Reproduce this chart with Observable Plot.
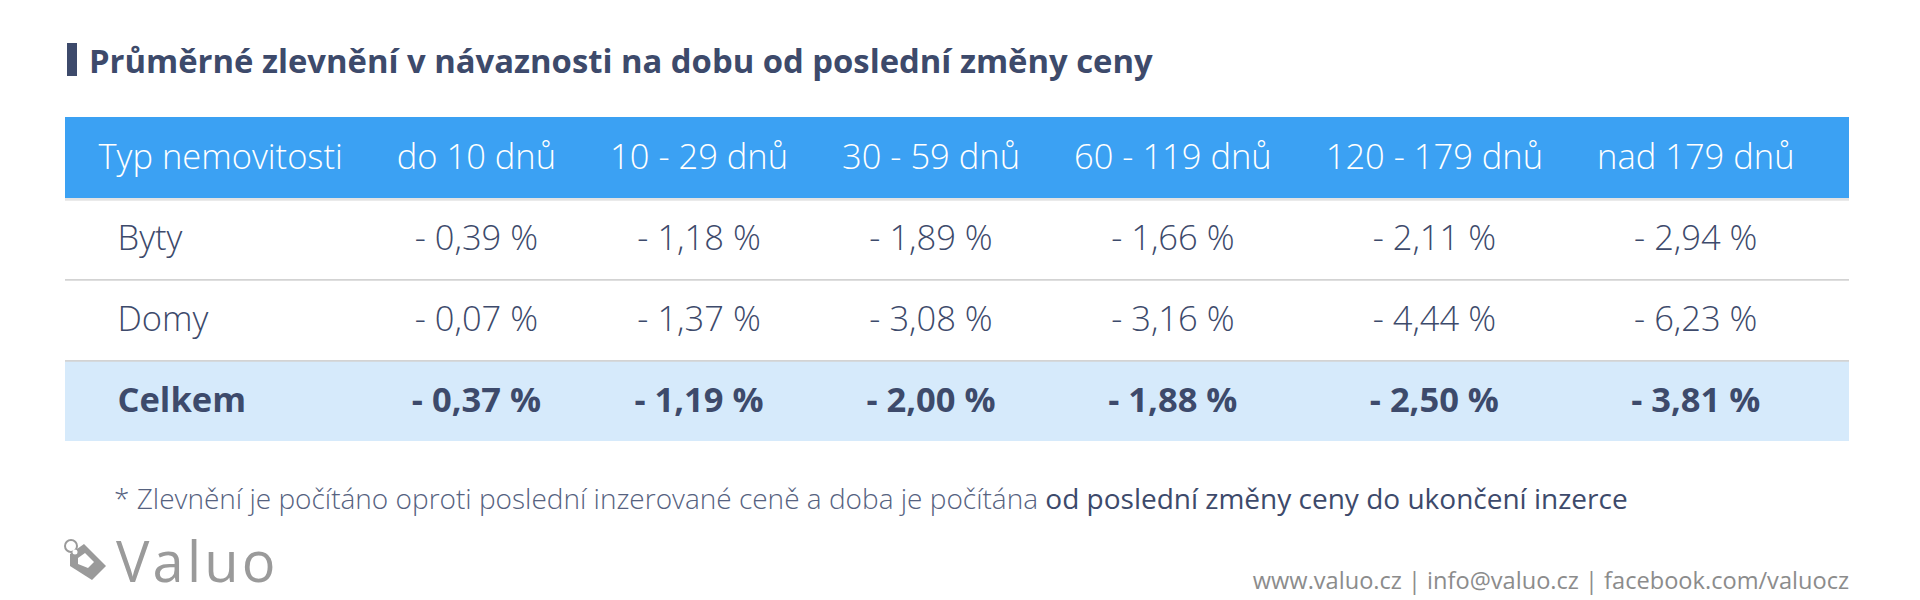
<!DOCTYPE html>
<html>
<head>
<meta charset="utf-8">
<script src="https://cdn.jsdelivr.net/npm/d3@7"></script>
<script src="https://cdn.jsdelivr.net/npm/@observablehq/plot@0.6"></script>
<style>
  html, body { margin: 0; padding: 0; background: #fff; }
  #page { position: relative; width: 1920px; height: 600px; overflow: hidden; font-family: "Open Sans", sans-serif; color: #3d4a6b; }
  #bar { position: absolute; left: 67px; top: 43px; width: 10px; height: 33px; background: #3d4a6b; }
  #title { position: absolute; left: 89px; top: 39px; font-size: 32.8px; font-weight: 700; line-height: 44px; white-space: nowrap; color: #3d4a6b; }
  #chart { position: absolute; left: 0; top: 116px; }
  #note { position: absolute; left: 114px; top: 480px; font-size: 28px; font-weight: 300; line-height: 36px; white-space: nowrap; color: #56627f; }
  #note .em { color: #3d4a6b; font-weight: 400; }
  #logo { position: absolute; left: 60px; top: 522px; height: 76px; display: flex; align-items: center; }
  #logo span { font-size: 56px; line-height: 76px; color: #9a9a9a; letter-spacing: 3.2px; margin-left: 4px; }
  #contacts { position: absolute; right: 71px; top: 565px; font-size: 23.6px; line-height: 30px; color: #8c8c8c; white-space: nowrap; }
</style>
</head>
<body>
<div id="page">
  <div id="bar"></div>
  <div id="title"></div>
  <div id="chart"></div>
  <div id="note"></div>
  <div id="logo">
    <svg width="52" height="48" viewBox="0 0 52 48">
      <circle cx="11" cy="10" r="6" fill="none" stroke="#9a9a9a" stroke-width="2"/>
      <polygon points="10,18 24,8 46,30 32,44 10,30" fill="#9a9a9a"/>
      <polygon points="18,22 25,17 34,26 28,32 18,28" fill="#fff"/>
      <circle cx="15" cy="16" r="2.5" fill="#fff"/>
    </svg>
    <span>Valuo</span>
  </div>
  <div id="contacts"></div>
</div>
<script>
// ---- data ----
const titleText = "Průměrné zlevnění v návaznosti na dobu od poslední změny ceny";
const typeHeader = "Typ nemovitosti";
const periods = ["do 10 dnů", "10 - 29 dnů", "30 - 59 dnů", "60 - 119 dnů", "120 - 179 dnů", "nad 179 dnů"];
const rowTypes = ["Byty", "Domy", "Celkem"];
const byty   = [-0.39, -1.18, -1.89, -1.66, -2.11, -2.94];
const domy   = [-0.07, -1.37, -3.08, -3.16, -4.44, -6.23];
const celkem = [-0.37, -1.19, -2.00, -1.88, -2.50, -3.81];
const totalRow = "Celkem";
const noteLead = "* Zlevnění je počítáno oproti poslední inzerované ceně a doba je počítána ";
const noteEmph = "od poslední změny ceny do ukončení inzerce";
const contacts = "www.valuo.cz | info@valuo.cz | facebook.com/valuocz";

// ---- texts ----
document.getElementById("title").textContent = titleText;
const note = document.getElementById("note");
note.appendChild(document.createTextNode(noteLead));
const em = document.createElement("span"); em.className = "em"; em.textContent = noteEmph; note.appendChild(em);
document.getElementById("contacts").textContent = contacts;

// ---- table data ----
const series = [byty, domy, celkem];
const cells = rowTypes.flatMap((t, r) => periods.map((p, c) => ({type: t, period: p, value: series[r][c]})));
const fmt = v => "- " + Math.abs(v).toFixed(2).replace(".", ",") + " %";
const columns = [typeHeader, ...periods];
const rows = [typeHeader, ...rowTypes];

// ---- column layout: texts separated by a constant gap (auto table layout) ----
const FS = 34.5;
const ctx = document.createElement("canvas").getContext("2d");
ctx.font = `300 ${FS}px "Open Sans"`;
const widths = columns.map(s => ctx.measureText(s).width);
const W = 1920, H = 330, mL = 65, mR = 71, mB = 5;
const padL = 33, padR = 55;
const gap = (W - mL - mR - padL - padR - d3.sum(widths)) / (columns.length - 1);
const xRange = [];
let cursor = mL + padL;
widths.forEach((w, i) => { xRange.push(i === 0 ? cursor : cursor + w / 2); cursor += w + gap; });
const rowH = (H - mB) / rows.length;
const ink = "#3d4a6b";

function build(xScale) {
  return Plot.plot({
    width: W, height: H,
    marginLeft: mL, marginRight: mR, marginTop: 0, marginBottom: mB,
    x: xScale,
    y: {type: "band", domain: rows, padding: 0, axis: null},
    style: {fontFamily: '"Open Sans", sans-serif', background: "transparent", overflow: "visible"},
    marks: [
      Plot.cell([typeHeader], {y: d => d, fill: "#3ba1f3"}),
      Plot.cell([totalRow], {y: d => d, fill: "#d6eafb"}),
      Plot.cell([rowTypes[0]], {y: d => d, fill: "#e3e3e3", insetBottom: rowH - 3}),
      Plot.cell(rowTypes.slice(1), {y: d => d, fill: "#d3d3d3", insetBottom: rowH - 2}),
      Plot.text([typeHeader], {x: d => d, y: d => d, text: d => d, textAnchor: "start", fill: "#ffffff", fontSize: FS, fontWeight: 300}),
      Plot.text(periods, {x: d => d, y: () => typeHeader, text: d => d, fill: "#ffffff", fontSize: FS, fontWeight: 300}),
      Plot.text(rowTypes.filter(t => t !== totalRow), {x: () => typeHeader, y: d => d, text: d => d, textAnchor: "start", dx: 19, fill: ink, fontSize: FS, fontWeight: 300}),
      Plot.text([totalRow], {x: () => typeHeader, y: d => d, text: d => d, textAnchor: "start", dx: 19, fill: ink, fontSize: FS, fontWeight: 700}),
      Plot.text(cells.filter(d => d.type !== totalRow), {x: "period", y: "type", text: d => fmt(d.value), fill: ink, fontSize: FS, fontWeight: 300}),
      Plot.text(cells.filter(d => d.type === totalRow), {x: "period", y: "type", text: d => fmt(d.value), fill: ink, fontSize: FS, fontWeight: 700})
    ]
  });
}

let chart;
try {
  chart = build({type: "ordinal", domain: columns, range: xRange, axis: null});
} catch (e) {
  console.error(e);
  chart = build({type: "point", domain: columns, range: [xRange[0], xRange[xRange.length - 1]], axis: null});
}
document.getElementById("chart").appendChild(chart);
</script>
</body>
</html>
